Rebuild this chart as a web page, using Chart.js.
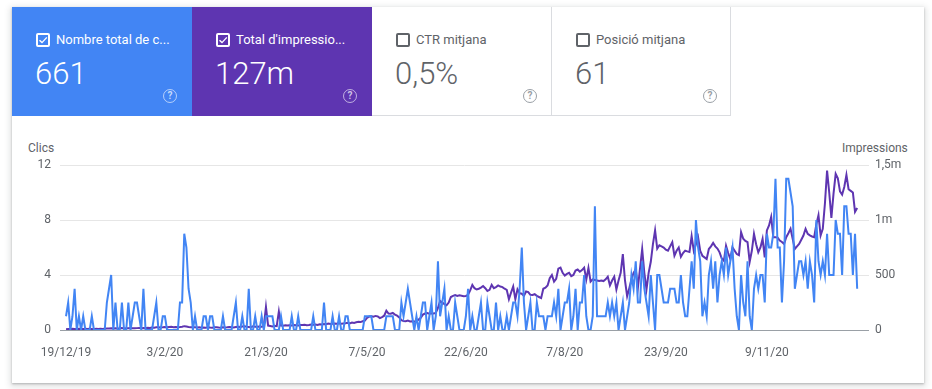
<!DOCTYPE html>
<html><head><meta charset="utf-8">
<script src="https://cdn.jsdelivr.net/npm/chart.js@4"></script>
<style>
body{margin:0;background:#fff;font-family:Roboto,Arial,sans-serif;width:932px;height:389px;overflow:hidden;position:relative}
#card{position:absolute;left:12px;top:7px;width:912px;height:376px;background:#fff;box-shadow:0 1px 2px rgba(60,64,67,.3),0 2px 6px 2px rgba(60,64,67,.15)}
.tile{position:absolute;top:0;height:109px;box-sizing:border-box}
.t1{left:0;width:180px;background:#4285f4;color:#fff}
.t2{left:180px;width:180px;background:#5e35b1;color:#fff}
.t3{left:360px;width:180px;background:#fff;color:#5f6368;border-right:1px solid #dadce0;border-bottom:1px solid #dadce0}
.t4{left:540px;width:179px;background:#fff;color:#5f6368;border-right:1px solid #dadce0;border-bottom:1px solid #dadce0}
.cb{position:absolute;left:24px;top:26px;width:14px;height:14px;box-sizing:border-box;border:2px solid currentColor;border-radius:2px}
.t3 .cb,.t4 .cb{border-color:#5f6368}
.cb svg{position:absolute;left:0;top:0}
.lab{position:absolute;left:44px;top:25px;font-size:13px;line-height:16px;white-space:nowrap}
.num{position:absolute;left:23px;top:49px;font-size:31px;line-height:36px;font-weight:300}
.q{position:absolute;left:151px;top:82px;width:14px;height:14px;box-sizing:border-box;border:1.5px solid rgba(255,255,255,.6);border-radius:50%;font-size:10px;line-height:11px;text-align:center;color:rgba(255,255,255,.7);font-weight:700}
.t3 .q,.t4 .q{border-color:#9aa0a6;color:#9aa0a6}
.ax{position:absolute;font-size:12px;color:#5f6368;line-height:14px}
#cv{position:absolute;left:0;top:120px}
</style></head><body>
<div id="card">
 <div class="tile t1"><div class="cb"><svg width="10" height="10" viewBox="0 0 10 10"><path d="M1.5 5.2 L4 7.6 L8.8 2.4" stroke="#fff" stroke-width="1.4" fill="none"/></svg></div><div class="lab">Nombre total de c...</div><div class="num">661</div><div class="q">?</div></div>
 <div class="tile t2"><div class="cb"><svg width="10" height="10" viewBox="0 0 10 10"><path d="M1.5 5.2 L4 7.6 L8.8 2.4" stroke="#fff" stroke-width="1.4" fill="none"/></svg></div><div class="lab">Total d'impressio...</div><div class="num">127m</div><div class="q">?</div></div>
 <div class="tile t3"><div class="cb"></div><div class="lab">CTR mitjana</div><div class="num">0,5%</div><div class="q">?</div></div>
 <div class="tile t4"><div class="cb"></div><div class="lab">Posició mitjana</div><div class="num">61</div><div class="q">?</div></div>
</div>
<div class="ax" style="left:28px;top:141px">Clics</div>
<div class="ax" style="left:842px;top:141px">Impressions</div>
<canvas id="cv" width="932" height="250"></canvas>
<script>
const tickDays=[0,46,93,140,186,232,279,326];
const tickLabels=['19/12/19','3/2/20','21/3/20','7/5/20','22/6/20','7/8/20','23/9/20','9/11/20'];
const leftTicks=[0,4,8,12];
const rightTickValues=[0,500,1000,1500];
const rightTickLabels=['0','500','1m','1,5m'];
const clicks=[
1,2,0,1,3,0,1,0,1,0,
0,0,1,0,0,0,0,0,0,2,
3,4,0,2,0,0,2,0,0,2,
0,1,2,2,1,0,3,0,0,0,
0,1,2,0,0,1,1,0,0,0,
0,0,0,2,2,7,6,3,2,0,
1,0,0,0,1,1,0,1,1,0,
0,0,0,1,0,0,0,0,1,2,
0,0,1,0,0,3,0,0,1,0,
0,1,0,1,1,1,1,0,0,0,
1,0,0,0,0,1,0,0,1,0,
0,0,0,0,0,1,0,0,0,0,
2,0,0,0,1,0,0,1,0,0,
1,1,0,0,0,0,0,0,0,1,
1,1,1,0,0,0,0,0,0,1,
1,1,1,0,0,0,2,1,2,3,
2,1,0,1,0,1,2,2,0,1,
2,0,1,5,1,2,3,0,1,0,
0,2,1,0,0,0,1,3,0,1,
0,0,1,2,0,0,2,1,0,0,
2,0,1,0,0,1,0,1,2,2,
1,3,6,2,0,1,2,0,0,2,
1,1,1,0,1,1,1,2,1,3,
0,1,2,2,3,0,1,3,0,2,
2,4,1,0,0,1,9,1,1,1,
1,1,2,1,2,1,2,0,1,2,
0,1,2,4,3,5,2,2,5,3,
2,1,4,2,0,4,4,3,2,2,
2,3,3,3,2,2,4,2,1,1,
3,5,3,8,6,5,1,2,1,4,
5,3,5,2,4,5,4,6,4,5,
6,3,1,0,4,2,1,5,1,0,
3,4,3,4,4,2,7,6,6,7,
11,6,6,2,5,11,11,10,9,3,
4,5,5,4,5,3,5,4,2,8,
5,4,5,4,7,4,4,4,8,7,
7,4,9,9,7,7,4,7,3];
const impressions=[
8,10,9,12,10,8,11,9,10,12,
9,11,10,8,12,10,11,9,12,13,
14,15,13,16,14,15,17,14,16,15,
18,16,15,17,19,16,18,17,20,18,
22,20,24,26,23,25,28,24,27,30,
26,28,25,27,30,35,32,28,26,24,
25,22,24,20,23,21,25,22,20,24,
26,23,21,25,22,24,27,25,23,28,
30,27,32,35,30,28,26,33,30,29,
32,30,35,210,40,36,32,38,35,168,
40,38,42,40,44,42,45,43,40,46,
45,48,44,46,50,47,49,45,52,50,
55,52,58,54,56,60,57,62,58,60,
62,65,60,68,64,70,75,72,80,85,
110,122,125,120,128,124,108,118,130,175,
150,148,155,140,130,115,90,82,80,85,
78,80,76,84,95,110,140,150,155,148,
152,150,155,200,265,250,235,225,250,300,
310,318,310,315,312,308,310,320,360,410,
380,368,375,385,400,380,355,365,410,380,
390,405,395,390,375,365,280,340,395,280,
370,335,330,310,350,345,320,318,325,310,
300,290,375,385,405,470,500,440,466,558,
567,520,495,510,520,490,500,540,550,530,
545,567,460,565,440,460,455,450,445,450,
445,460,485,405,450,485,368,450,520,690,
450,307,380,460,520,552,383,560,736,520,
368,520,620,780,905,740,770,760,750,730,
721,760,798,675,720,750,665,700,721,715,
710,853,720,780,844,720,675,660,645,736,
760,791,760,740,706,650,629,767,700,645,
751,720,690,680,890,830,810,798,620,720,
874,780,706,750,828,660,905,951,1028,844,
844,840,813,800,782,844,880,920,830,736,
760,782,820,859,920,874,860,850,844,960,
1043,859,920,1150,1450,1250,1020,1240,1420,1380,
1260,1230,1300,1410,1280,1265,1250,1075,1110];

const tickFont={family:'Roboto, Arial, sans-serif',size:12};
new Chart(document.getElementById('cv'),{
 type:'line',
 data:{datasets:[
  {label:'Clics',data:clicks.map((v,i)=>({x:i,y:v})),borderColor:'#4285f4',borderWidth:2,pointRadius:0,tension:0,yAxisID:'y',order:1},
  {label:'Impressions',data:impressions.map((v,i)=>({x:i,y:v})),borderColor:'#5e35b1',borderWidth:2,pointRadius:0,tension:0,yAxisID:'y1',order:2}
 ]},
 options:{
  responsive:false,animation:false,devicePixelRatio:1,
  layout:{padding:{top:45,left:0,right:0,bottom:0}},
  plugins:{legend:{display:false},tooltip:{enabled:false}},
  scales:{
   x:{type:'linear',min:-2.8,max:373.5,
      afterBuildTicks:s=>{s.ticks=tickDays.map(v=>({value:v}));},
      afterFit:s=>{s.height=40;},
      grid:{display:false,drawTicks:false},border:{display:false},
      ticks:{autoSkip:false,maxRotation:0,padding:16,color:'#5f6368',font:tickFont,
        callback:(v)=>{const k=tickDays.indexOf(v);return k>=0?tickLabels[k]:'';}}},
   y:{position:'left',min:0,max:12,
      afterBuildTicks:s=>{s.ticks=leftTicks.map(v=>({value:v}));},
      afterFit:s=>{s.width=60;},
      border:{display:false},
      grid:{drawTicks:false,color:c=>c.tick&&c.tick.value===0?'#9aa0a6':'#e6e6e6',lineWidth:1},
      ticks:{padding:9,color:'#5f6368',font:tickFont}},
   y1:{position:'right',min:0,max:1500,
      afterBuildTicks:s=>{s.ticks=rightTickValues.map(v=>({value:v}));},
      afterFit:s=>{s.width=63;},
      border:{display:false},
      grid:{display:false,drawTicks:false},
      ticks:{padding:6,color:'#5f6368',font:tickFont,
        callback:(v)=>{const k=rightTickValues.indexOf(v);return k>=0?rightTickLabels[k]:'';}}}
  }
 }
});
</script>
</body></html>
